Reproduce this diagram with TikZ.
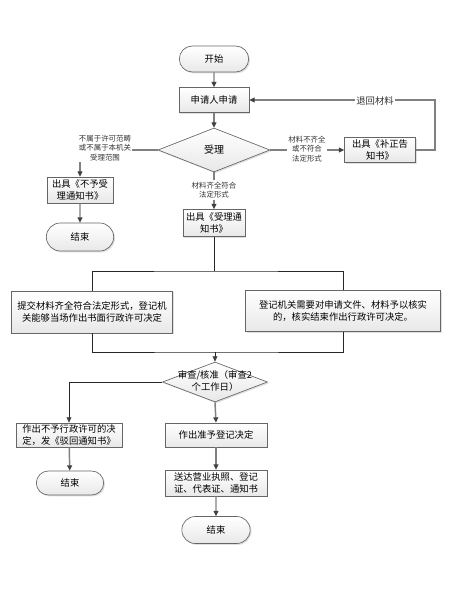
\documentclass[tikz,border=0pt]{standalone}
\usepackage{fontspec}
\setmainfont{Noto Sans CJK SC}
\usetikzlibrary{arrows.meta,shapes.geometric,shapes.misc,shadows}
\begin{document}
\begin{tikzpicture}[x=0.75pt,y=-0.75pt,
  base/.style={draw=black!60, line width=0.5pt, top color=white, bottom color=black!9,
    drop shadow={shadow xshift=1pt, shadow yshift=-1pt, opacity=0.25},
    inner sep=1pt, align=center, font=\fontsize{7}{9}\selectfont},
  box/.style={base, rectangle},
  term/.style={base, rounded rectangle},
  diam/.style={base, diamond, inner sep=0pt},
  lbl/.style={fill=white, inner sep=1pt, align=center, font=\fontsize{5.6}{7.2}\selectfont, text=black!80},
  gline/.style={draw=black!50, line width=1.1pt},
  bline/.style={draw=black!85, line width=0.6pt},
  arr/.style={-{Triangle[length=4pt,width=3.6pt,color=black!75]}},
]
\useasboundingbox (0,0) rectangle (454,591);
\fill[white] (0,0) rectangle (454,591);

% nodes
\node[term, minimum width=54pt, minimum height=19.5pt] (start) at (214,59) {开始};
\node[box, minimum width=52.5pt, minimum height=18.75pt] (apply) at (214,100) {申请人申请};
\node[diam, minimum width=84pt, minimum height=33pt] (accept) at (214,150) {};
\node[font=\fontsize{7.5}{9}\selectfont] (accepttxt) at (214,150) {受理};
\node[box, minimum width=49.5pt, minimum height=19.5pt] (reject1) at (80,190) {出具《不予受\\理通知书》};
\node[term, minimum width=52.5pt, minimum height=21pt] (end1) at (80,237) {结束};
\node[box, minimum width=53.25pt, minimum height=18.75pt] (supp) at (380,150) {出具《补正告\\知书》};
\node[box, minimum width=46.5pt, minimum height=20.25pt] (notice) at (214,223) {出具《受理通\\知书》};
\node[box, minimum width=120.75pt, minimum height=31.5pt] (boxL) at (92,312) {提交材料齐全符合法定形式，登记机\\关能够当场作出书面行政许可决定};
\node[box, minimum width=146.25pt, minimum height=30.75pt] (boxR) at (343,311) {登记机关需要对申请文件、材料予以核实\\的，核实结束作出行政许可决定。};
\node[diam, minimum width=78.75pt, minimum height=30pt] (review) at (215,382) {};
\node[align=center, font=\fontsize{7}{9}\selectfont] (reviewtxt) at (215,381) {审查/核准（审查2\\个工作日）};
\node[box, minimum width=79.5pt, minimum height=18pt] (reject2) at (69,435) {作出不予行政许可的决\\定，发《驳回通知书》};
\node[term, minimum width=52.5pt, minimum height=18pt] (end2) at (70,483) {结束};
\node[box, minimum width=76.5pt, minimum height=18pt] (approve) at (216,435) {作出准予登记决定};
\node[box, minimum width=76.5pt, minimum height=19.5pt] (deliver) at (216,483) {送达营业执照、登记\\证、代表证、通知书};
\node[term, minimum width=53.25pt, minimum height=20.25pt] (end3) at (216,530) {结束};

\coordinate (split) at (214,271);
\coordinate (merge) at (215,352);
\coordinate (back) at (435,150);

% connectors
\draw[gline, arr] (start) -- (apply);
\draw[gline, arr] (apply) -- (accept);
\draw[gline, arr] (accept.west) -| (reject1.north);
\node[lbl] (l1) at (105,148) {不属于许可范畴\\或不属于本机关\\受理范围};
\draw[gline, arr] (accept.east) -- (supp.west);
\node[lbl] (l2) at (307,149) {材料不齐全\\或不符合\\法定形式};
\draw[gline, arr] (supp.east) -- (back) |- (apply.east);
\node[lbl, font=\fontsize{7}{9}\selectfont] (l3) at (375,101) {退回材料};
\draw[gline, arr] (accept.south) -- (notice.north);
\node[lbl] (l4) at (214,190) {材料齐全符合\\法定形式};
\draw[gline, arr] (reject1) -- (end1);

\draw[bline] (notice.south) -- (split);
\draw[bline] (boxL.north) |- (split) -| (boxR.north);
\draw[bline] (boxL.south) |- (merge) -| (boxR.south);
\draw[bline, arr] (merge) -- (review.north);
\draw[bline, arr] (review.west) -| (reject2.north);
\draw[gline, arr] (review.south) -- (approve.north);
\draw[gline, arr] (reject2) -- (end2);
\draw[gline, arr] (approve) -- (deliver);
\draw[gline, arr] (deliver) -- (end3);
\end{tikzpicture}
\end{document}
